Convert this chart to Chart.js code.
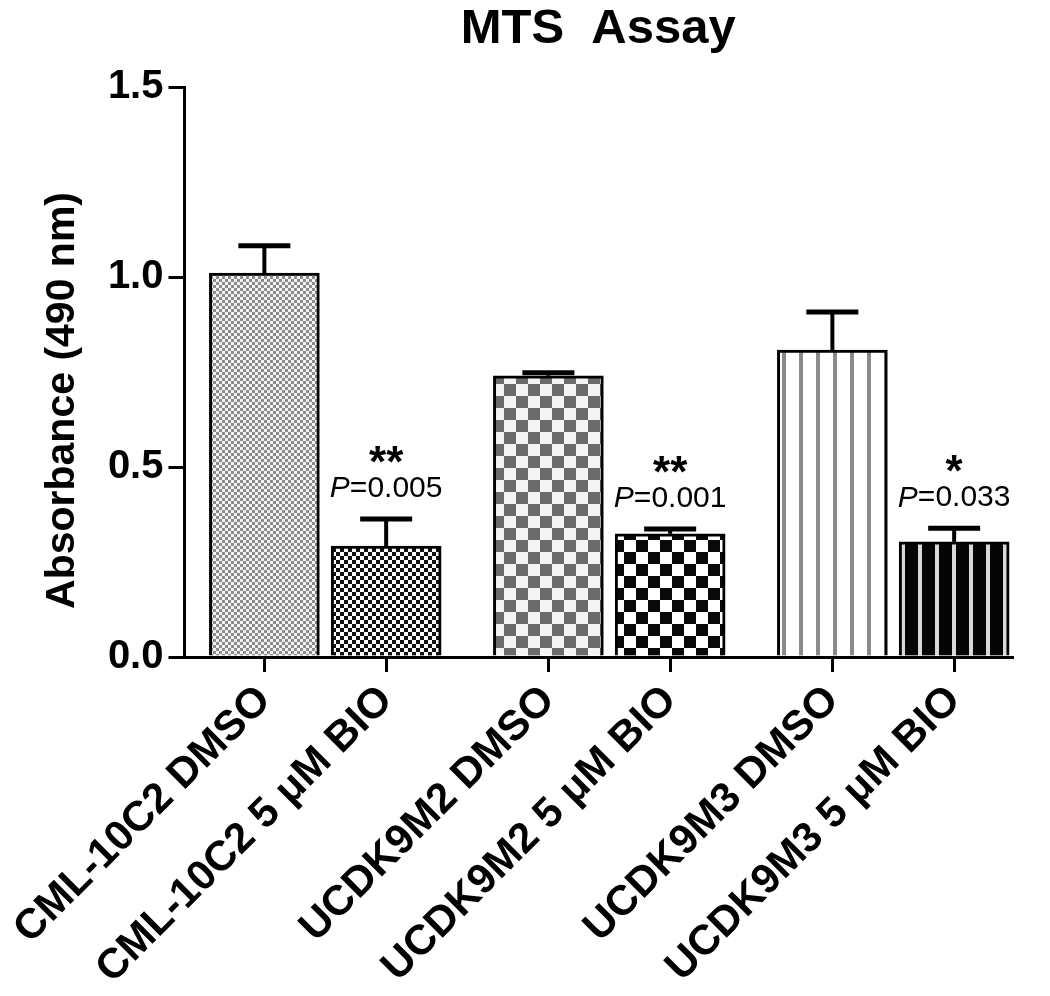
<!DOCTYPE html>
<html><head><meta charset="utf-8">
<script src="https://cdn.jsdelivr.net/npm/chart.js@4"></script>
<style>html,body{margin:0;padding:0;background:#fff}canvas{display:block}</style>
</head><body>
<canvas id="c" width="1050" height="996"></canvas>
<script>
// ---- data ----
const categories = ["CML-10C2 DMSO", "CML-10C2 5 μM BIO", "UCDK9M2 DMSO", "UCDK9M2 5 μM BIO", "UCDK9M3 DMSO", "UCDK9M3 5 μM BIO"];
const absorbance = [1.010, 0.292, 0.740, 0.324, 0.808, 0.303];
const sem = [0.072, 0.071, 0.008, 0.013, 0.100, 0.036];
const stars = ["", "**", "", "**", "", "*"];
const pValues = ["", "0.005", "", "0.001", "", "0.033"];
const yTicks = [0.0, 0.5, 1.0, 1.5];
const chartTitle = "MTS  Assay";
const yTitle = "Absorbance (490 nm)     ";

// ---- layout helpers ----
const GROUP_STEP = 2.332;            // distance between cell-line pairs, in bar-slot units
const xOf = i => Math.floor(i / 2) * GROUP_STEP + (i % 2);
const FONT = "'Liberation Sans', Arial, sans-serif";

function makePattern(w, h, draw) {
  const c = document.createElement('canvas');
  c.width = w; c.height = h;
  const g = c.getContext('2d');
  draw(g, w, h);
  return g.createPattern(c, 'repeat');
}
function checker(cell, dark, light) {
  return makePattern(cell * 2, cell * 2, (g) => {
    g.fillStyle = light; g.fillRect(0, 0, cell * 2, cell * 2);
    g.fillStyle = dark; g.fillRect(0, 0, cell, cell); g.fillRect(cell, cell, cell, cell);
  });
}
function stripes(period, lineW, bg, fg) {
  return makePattern(period, 4, (g) => {
    g.fillStyle = bg; g.fillRect(0, 0, period, 4);
    g.fillStyle = fg; g.fillRect(0, 0, lineW, 4);
  });
}
const fills = [
  checker(3, '#8c8c8c', '#f4f4f4'),
  checker(4, '#111111', '#ffffff'),
  checker(12, '#6b6b6b', '#f4f4f4'),
  checker(12, '#0a0a0a', '#ffffff'),
  stripes(17, 4, '#ffffff', '#8a8a8a'),
  stripes(17, 4, '#050505', '#d8d8d8')
];

const errAndLabels = {
  id: 'errAndLabels',
  afterDatasetsDraw(chart) {
    const ctx = chart.ctx, ys = chart.scales.y, meta = chart.getDatasetMeta(0);
    ctx.save();
    meta.data.forEach((bar, i) => {
      const top = ys.getPixelForValue(absorbance[i]);
      const et = ys.getPixelForValue(absorbance[i] + sem[i]);
      ctx.strokeStyle = '#000';
      ctx.lineCap = 'butt';
      ctx.lineWidth = 4;
      ctx.beginPath(); ctx.moveTo(bar.x, top); ctx.lineTo(bar.x, et); ctx.stroke();
      ctx.lineWidth = 5;
      ctx.beginPath(); ctx.moveTo(bar.x - 26, et); ctx.lineTo(bar.x + 26, et); ctx.stroke();
      ctx.fillStyle = '#000';
      if (pValues[i]) {
        const rest = '=' + pValues[i];
        ctx.font = 'italic 30px ' + FONT;
        const wP = ctx.measureText('P').width;
        ctx.font = '30px ' + FONT;
        const wR = ctx.measureText(rest).width;
        const x0 = bar.x - (wP + wR) / 2;
        ctx.textBaseline = 'middle';
        ctx.textAlign = 'left';
        ctx.font = 'italic 30px ' + FONT;
        ctx.fillText('P', x0, et - 30);
        ctx.font = '30px ' + FONT;
        ctx.fillText(rest, x0 + wP, et - 30);
      }
      if (stars[i]) {
        ctx.font = 'bold 44px ' + FONT;
        ctx.textAlign = 'center';
        ctx.textBaseline = 'alphabetic';
        ctx.fillText(stars[i], bar.x, et - 42);
      }
    });
    ctx.restore();
  }
};

new Chart(document.getElementById('c'), {
  type: 'bar',
  data: {
    datasets: [{
      data: absorbance.map((v, i) => ({ x: xOf(i), y: v })),
      backgroundColor: fills,
      borderColor: '#000',
      borderWidth: 3,
      barThickness: 110
    }]
  },
  options: {
    responsive: false,
    devicePixelRatio: 1,
    animation: false,
    layout: { padding: { left: 0, right: 38, top: 0, bottom: 0 } },
    plugins: {
      legend: { display: false },
      tooltip: { enabled: false },
      title: {
        display: true, text: chartTitle, color: '#000', fullSize: false,
        font: { family: FONT, size: 49, weight: 'bold' },
        padding: { top: 0, bottom: 28.2 }
      }
    },
    scales: {
      x: {
        type: 'linear',
        offset: false,
        min: -0.656, max: 6.139,
        afterBuildTicks: s => { s.ticks = categories.map((c, i) => ({ value: xOf(i) })); },
        afterFit: s => { s.height = 339; },
        grid: { offset: false, drawOnChartArea: false, color: '#000', lineWidth: 3, tickLength: 15, tickWidth: 3 },
        border: { color: '#000', width: 3 },
        ticks: {
          autoSkip: false, maxRotation: 45, minRotation: 45, padding: 4, color: '#000',
          font: { family: FONT, size: 42, weight: 'bold' },
          callback: (v, i) => categories[i]
        }
      },
      y: {
        min: 0, max: 1.5,
        afterBuildTicks: s => { s.ticks = yTicks.map(v => ({ value: v })); },
        afterFit: s => { s.width = 183; },
        grid: { drawOnChartArea: false, color: '#000', lineWidth: 3, tickLength: 16, tickWidth: 3 },
        border: { color: '#000', width: 3 },
        ticks: {
          padding: 5, color: '#000',
          font: { family: FONT, size: 40, weight: 'bold' },
          callback: v => Number(v).toFixed(1)
        },
        title: {
          display: true, text: yTitle, color: '#000',
          font: { family: FONT, size: 41, weight: 'bold' },
          padding: { top: 37, bottom: 0 }
        }
      }
    }
  },
  plugins: [errAndLabels]
});
</script>
</body></html>
